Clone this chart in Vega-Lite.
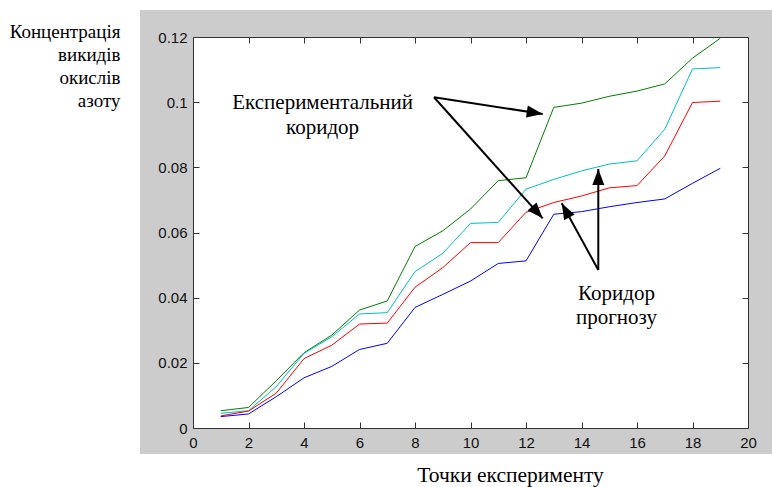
{
  "$schema": "https://vega.github.io/schema/vega-lite/v6.json",
  "width": 555,
  "height": 391,
  "autosize": {"type": "none"},
  "padding": {"left": 193, "top": 37, "right": 24, "bottom": 59},
  "background": "white",
  "config": {"view": {"stroke": null}},
  "datasets": {
    "series": [
      {"series": "exp_upper", "point": 1, "value": 0.0053},
      {"series": "exp_upper", "point": 2, "value": 0.0063},
      {"series": "exp_upper", "point": 3, "value": 0.0145},
      {"series": "exp_upper", "point": 4, "value": 0.0231},
      {"series": "exp_upper", "point": 5, "value": 0.0285},
      {"series": "exp_upper", "point": 6, "value": 0.0362},
      {"series": "exp_upper", "point": 7, "value": 0.0390},
      {"series": "exp_upper", "point": 8, "value": 0.0557},
      {"series": "exp_upper", "point": 9, "value": 0.0605},
      {"series": "exp_upper", "point": 10, "value": 0.0672},
      {"series": "exp_upper", "point": 11, "value": 0.0759},
      {"series": "exp_upper", "point": 12, "value": 0.0768},
      {"series": "exp_upper", "point": 13, "value": 0.0984},
      {"series": "exp_upper", "point": 14, "value": 0.0997},
      {"series": "exp_upper", "point": 15, "value": 0.1018},
      {"series": "exp_upper", "point": 16, "value": 0.1034},
      {"series": "exp_upper", "point": 17, "value": 0.1056},
      {"series": "exp_upper", "point": 18, "value": 0.1135},
      {"series": "exp_upper", "point": 19, "value": 0.1196},
      {"series": "prog_upper", "point": 1, "value": 0.0045},
      {"series": "prog_upper", "point": 2, "value": 0.0053},
      {"series": "prog_upper", "point": 3, "value": 0.0127},
      {"series": "prog_upper", "point": 4, "value": 0.0229},
      {"series": "prog_upper", "point": 5, "value": 0.0280},
      {"series": "prog_upper", "point": 6, "value": 0.0350},
      {"series": "prog_upper", "point": 7, "value": 0.0354},
      {"series": "prog_upper", "point": 8, "value": 0.0480},
      {"series": "prog_upper", "point": 9, "value": 0.0536},
      {"series": "prog_upper", "point": 10, "value": 0.0628},
      {"series": "prog_upper", "point": 11, "value": 0.0631},
      {"series": "prog_upper", "point": 12, "value": 0.0733},
      {"series": "prog_upper", "point": 13, "value": 0.0763},
      {"series": "prog_upper", "point": 14, "value": 0.0789},
      {"series": "prog_upper", "point": 15, "value": 0.0810},
      {"series": "prog_upper", "point": 16, "value": 0.0820},
      {"series": "prog_upper", "point": 17, "value": 0.0917},
      {"series": "prog_upper", "point": 18, "value": 0.1102},
      {"series": "prog_upper", "point": 19, "value": 0.1106},
      {"series": "exp_lower", "point": 1, "value": 0.0037},
      {"series": "exp_lower", "point": 2, "value": 0.0052},
      {"series": "exp_lower", "point": 3, "value": 0.0107},
      {"series": "exp_lower", "point": 4, "value": 0.0213},
      {"series": "exp_lower", "point": 5, "value": 0.0254},
      {"series": "exp_lower", "point": 6, "value": 0.0319},
      {"series": "exp_lower", "point": 7, "value": 0.0322},
      {"series": "exp_lower", "point": 8, "value": 0.0432},
      {"series": "exp_lower", "point": 9, "value": 0.0492},
      {"series": "exp_lower", "point": 10, "value": 0.0569},
      {"series": "exp_lower", "point": 11, "value": 0.0569},
      {"series": "exp_lower", "point": 12, "value": 0.0662},
      {"series": "exp_lower", "point": 13, "value": 0.0692},
      {"series": "exp_lower", "point": 14, "value": 0.0712},
      {"series": "exp_lower", "point": 15, "value": 0.0737},
      {"series": "exp_lower", "point": 16, "value": 0.0744},
      {"series": "exp_lower", "point": 17, "value": 0.0835},
      {"series": "exp_lower", "point": 18, "value": 0.0999},
      {"series": "exp_lower", "point": 19, "value": 0.1003},
      {"series": "prog_lower", "point": 1, "value": 0.0035},
      {"series": "prog_lower", "point": 2, "value": 0.0043},
      {"series": "prog_lower", "point": 3, "value": 0.0096},
      {"series": "prog_lower", "point": 4, "value": 0.0154},
      {"series": "prog_lower", "point": 5, "value": 0.0189},
      {"series": "prog_lower", "point": 6, "value": 0.0241},
      {"series": "prog_lower", "point": 7, "value": 0.0260},
      {"series": "prog_lower", "point": 8, "value": 0.0370},
      {"series": "prog_lower", "point": 9, "value": 0.0410},
      {"series": "prog_lower", "point": 10, "value": 0.0451},
      {"series": "prog_lower", "point": 11, "value": 0.0505},
      {"series": "prog_lower", "point": 12, "value": 0.0513},
      {"series": "prog_lower", "point": 13, "value": 0.0656},
      {"series": "prog_lower", "point": 14, "value": 0.0664},
      {"series": "prog_lower", "point": 15, "value": 0.0679},
      {"series": "prog_lower", "point": 16, "value": 0.0692},
      {"series": "prog_lower", "point": 17, "value": 0.0703},
      {"series": "prog_lower", "point": 18, "value": 0.0751},
      {"series": "prog_lower", "point": 19, "value": 0.0797}
    ],
    "arrows": [
      {"arrow": "a1", "seq": 0, "x": 8.685, "y": 0.1015},
      {"arrow": "a1", "seq": 1, "x": 12.602, "y": 0.09638},
      {"arrow": "a2", "seq": 0, "x": 8.685, "y": 0.1015},
      {"arrow": "a2", "seq": 1, "x": 12.602, "y": 0.06436},
      {"arrow": "a3", "seq": 0, "x": 14.605, "y": 0.0485},
      {"arrow": "a3", "seq": 1, "x": 14.605, "y": 0.0795},
      {"arrow": "a4", "seq": 0, "x": 14.605, "y": 0.0485},
      {"arrow": "a4", "seq": 1, "x": 13.286, "y": 0.06897}
    ],
    "heads": [
      {"arrow": "a1", "x": 12.602, "y": 0.09638, "heading": 98.7},
      {"arrow": "a2", "x": 12.602, "y": 0.06436, "heading": 138.1},
      {"arrow": "a3", "x": 14.605, "y": 0.0795, "heading": 0},
      {"arrow": "a4", "x": 13.286, "y": 0.06897, "heading": 331.25}
    ],
    "notes": [
      {"label": "Експериментальний\nкоридор", "x": 4.67, "y": 0.0978},
      {"label": "Коридор\nпрогнозу", "x": 15.26, "y": 0.0393}
    ]
  },
  "layer": [
    {
      "data": {"values": [{"region": "figure"}]},
      "mark": {"type": "rect", "color": "#cccccc"},
      "encoding": {
        "x": {"datum": -1.91, "type": "quantitative", "scale": {"domain": [0, 20], "nice": false, "zero": false}, "axis": null},
        "x2": {"datum": 21.5},
        "y": {"datum": -0.008, "type": "quantitative", "scale": {"domain": [0, 0.12], "nice": false, "zero": false}, "axis": null},
        "y2": {"datum": 0.1283}
      }
    },
    {
      "data": {"values": [{"region": "axes"}]},
      "mark": {"type": "rect", "color": "#ffffff"},
      "encoding": {
        "x": {"datum": 0, "type": "quantitative", "scale": {"domain": [0, 20], "nice": false, "zero": false},
          "axis": {"orient": "top", "values": [2, 4, 6, 8, 10, 12, 14, 16, 18], "tickSize": -6, "labels": false, "title": null, "grid": false, "domainColor": "#333333", "tickColor": "#333333", "zindex": 1}},
        "x2": {"datum": 20},
        "y": {"datum": 0, "type": "quantitative", "scale": {"domain": [0, 0.12], "nice": false, "zero": false},
          "axis": {"orient": "right", "values": [0.02, 0.04, 0.06, 0.08, 0.1], "tickSize": -6, "labels": false, "title": null, "grid": false, "domainColor": "#333333", "tickColor": "#333333", "zindex": 1}},
        "y2": {"datum": 0.12}
      }
    },
    {
      "data": {"name": "series"},
      "mark": {"type": "line", "strokeWidth": 1},
      "encoding": {
        "x": {"field": "point", "type": "quantitative", "scale": {"domain": [0, 20], "nice": false, "zero": false},
          "axis": {"orient": "bottom", "values": [0, 2, 4, 6, 8, 10, 12, 14, 16, 18, 20], "tickSize": -6, "labelPadding": 13, "labelFont": "Liberation Sans", "labelFontSize": 15, "labelColor": "#111111", "labelFlush": false, "labelOverlap": false, "grid": false, "domainColor": "#333333", "tickColor": "#333333", "zindex": 1,
            "title": "Точки експерименту", "titleFont": "'Liberation Serif', 'Times New Roman', 'DejaVu Serif', serif", "titleFontSize": 21.5, "titleFontWeight": "normal", "titleColor": "#000000", "titleX": 317, "titleY": 53, "titleAlign": "center", "titleBaseline": "alphabetic"}},
        "y": {"field": "value", "type": "quantitative", "scale": {"domain": [0, 0.12], "nice": false, "zero": false},
          "axis": {"orient": "left", "values": [0, 0.02, 0.04, 0.06, 0.08, 0.1, 0.12], "format": ".2~g", "tickSize": -6, "labelPadding": 12, "labelFont": "Liberation Sans", "labelFontSize": 15, "labelColor": "#111111", "labelFlush": false, "labelOverlap": false, "grid": false, "domainColor": "#333333", "tickColor": "#333333", "zindex": 1,
            "title": ["Концентрація", "викидів", "окислів", "азоту"], "titleFont": "'Liberation Serif', 'Times New Roman', 'DejaVu Serif', serif", "titleFontSize": 19, "titleFontWeight": "normal", "titleColor": "#000000", "titleAngle": 0, "titleAlign": "right", "titleBaseline": "alphabetic", "titleX": -73, "titleY": 0, "titleLineHeight": 23}},
        "color": {"field": "series", "type": "nominal", "legend": null,
          "scale": {"domain": ["exp_upper", "prog_upper", "exp_lower", "prog_lower"], "range": ["#008000", "#00bfbf", "#ff0000", "#0000ff"]}}
      }
    },
    {
      "data": {"name": "arrows"},
      "mark": {"type": "line", "color": "#000000", "strokeWidth": 2},
      "encoding": {
        "x": {"field": "x", "type": "quantitative", "scale": {"domain": [0, 20], "nice": false, "zero": false}, "axis": null},
        "y": {"field": "y", "type": "quantitative", "scale": {"domain": [0, 0.12], "nice": false, "zero": false}, "axis": null},
        "detail": {"field": "arrow"},
        "order": {"field": "seq"}
      }
    },
    {
      "data": {"name": "heads"},
      "mark": {"type": "point", "shape": "M0,0L-0.75,2L0.75,2Z", "size": 256, "filled": true, "color": "#000000", "opacity": 1, "strokeWidth": 0},
      "encoding": {
        "x": {"field": "x", "type": "quantitative", "scale": {"domain": [0, 20], "nice": false, "zero": false}, "axis": null},
        "y": {"field": "y", "type": "quantitative", "scale": {"domain": [0, 0.12], "nice": false, "zero": false}, "axis": null},
        "angle": {"field": "heading", "type": "quantitative", "scale": null}
      }
    },
    {
      "data": {"name": "notes"},
      "mark": {"type": "text", "font": "'Liberation Serif', 'Times New Roman', 'DejaVu Serif', serif", "fontSize": 21, "align": "center", "baseline": "alphabetic", "lineBreak": "\n", "lineHeight": 24.5, "color": "#000000"},
      "encoding": {
        "x": {"field": "x", "type": "quantitative", "scale": {"domain": [0, 20], "nice": false, "zero": false}, "axis": null},
        "y": {"field": "y", "type": "quantitative", "scale": {"domain": [0, 0.12], "nice": false, "zero": false}, "axis": null},
        "text": {"field": "label"}
      }
    }
  ],
  "resolve": {"axis": {"x": "independent", "y": "independent"}}
}
